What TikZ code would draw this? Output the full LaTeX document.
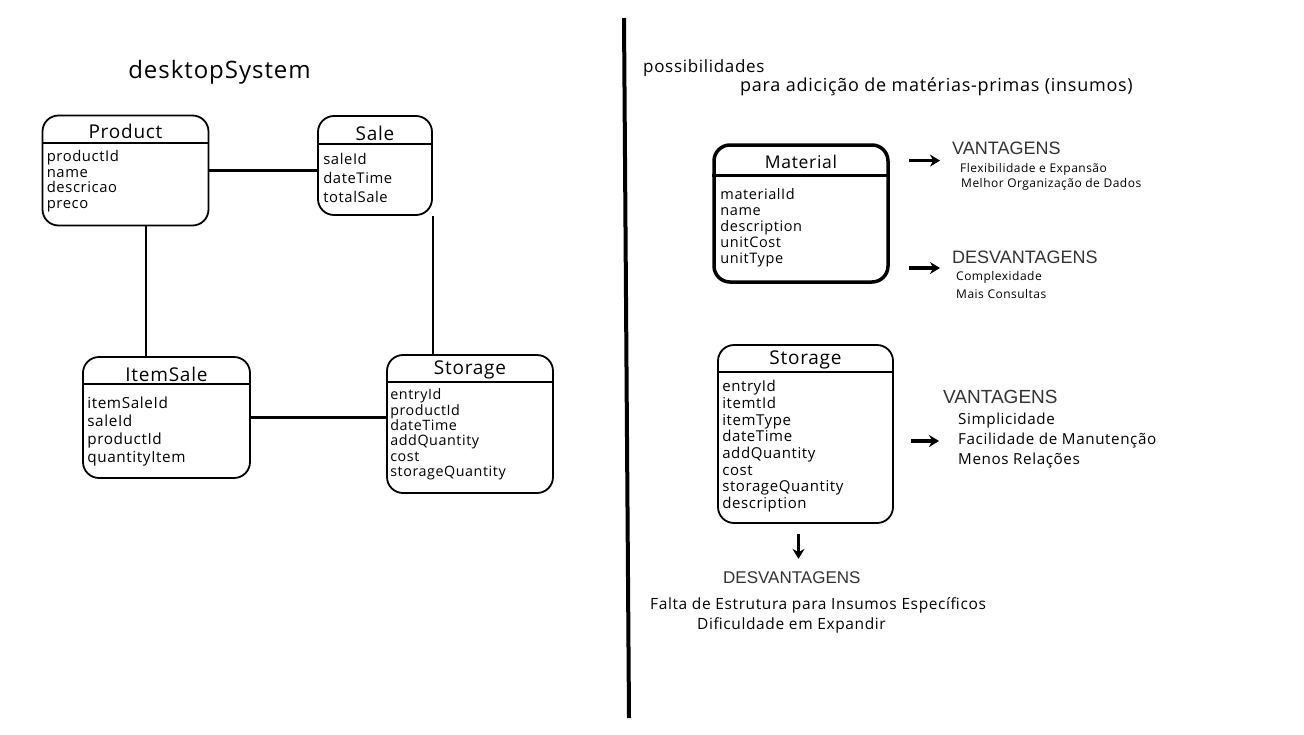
\documentclass[tikz,border=0pt]{standalone}
\usepackage{fontspec}
\setmainfont{Open Sans}[LetterSpace=4]
\newfontfamily\headfont{Liberation Sans}
\usetikzlibrary{arrows.meta, positioning, calc}

\begin{document}
\begin{tikzpicture}[x=1pt, y=-1pt, every node/.style={inner sep=0pt},
    entity/.style={draw, rectangle, rounded corners=16pt, line width=1.8pt},
    etitle/.style={font=\fontsize{19}{19}\selectfont},
    fields/.style={anchor=north west, align=left},
    head/.style={anchor=west, text=black!80},
    note/.style={anchor=west},
    link/.style={line width=2.2pt},
    bigarrow/.style={-{Stealth[length=10pt,width=12pt]}, line width=3.4pt}]
  \useasboundingbox (0,0) rectangle (1304,734);
  \fill[white] (0,0) rectangle (1304,734);

  \node[font=\fontsize{24}{24}\selectfont] (systitle) at (219.5,72) {desktopSystem};

  \node[entity, minimum width=166, minimum height=110] (product) at (125.5,170.5) {};
  \node[etitle] (producttitle) at ([yshift=-17pt]product.north) {Product};
  \draw[line width=1.8pt] ([yshift=-28pt]product.north west) -- ([yshift=-28pt]product.north east);
  \node[fields, font=\fontsize{14.8}{15.7}\selectfont] (productfields) at ([xshift=5pt,yshift=-35.5pt]product.north west) {productId\\name\\descricao\\preco};

  \node[entity, minimum width=114, minimum height=99] (sale) at (375,165.5) {};
  \node[etitle] (saletitle) at ([yshift=-18pt]sale.north) {Sale};
  \draw[line width=1.8pt] ([yshift=-29pt]sale.north west) -- ([yshift=-29pt]sale.north east);
  \node[fields, font=\fontsize{14.8}{19}\selectfont] (salefields) at ([xshift=6pt,yshift=-37.5pt]sale.north west) {saleId\\dateTime\\totalSale};

  \node[entity, minimum width=167, minimum height=121] (itemsale) at (166.5,417.5) {};
  \node[etitle] (itemsaletitle) at ([yshift=-18pt]itemsale.north) {ItemSale};
  \draw[line width=1.8pt] ([yshift=-28pt]itemsale.north west) -- ([yshift=-28pt]itemsale.north east);
  \node[fields, font=\fontsize{15.3}{17.7}\selectfont] (itemsalefields) at ([xshift=5pt,yshift=-41pt]itemsale.north west) {itemSaleId\\saleId\\productId\\quantityItem};

  \node[entity, minimum width=166, minimum height=138] (storeL) at (470,424) {};
  \node[etitle] (storeLtitle) at ([yshift=-16pt]storeL.north) {Storage};
  \draw[line width=1.8pt] ([yshift=-28pt]storeL.north west) -- ([yshift=-28pt]storeL.north east);
  \node[fields, font=\fontsize{14.3}{15.4}\selectfont] (storeLfields) at ([xshift=4pt,yshift=-34.5pt]storeL.north west) {entryId\\productId\\dateTime\\addQuantity\\cost\\storageQuantity};

  \draw[link] (product.east) -- (product.east -| sale.west);
  \coordinate (pi) at ($(product.south)!.5!(itemsale.north)$);
  \draw[link] (pi |- product.south) -- (pi |- itemsale.north);
  \draw[link] (sale.east |- sale.south) -- (sale.east |- storeL.north);
  \draw[link] (itemsale.east) -- (itemsale.east -| storeL.west);

  \draw[line width=4pt] (624,18) -- (629,718);

  \node[note, font=\fontsize{17}{17}\selectfont] (poss) at (643,68) {possibilidades};
  \node[note, font=\fontsize{18}{18}\selectfont] (adicao) at (740,87) {para adicição de matérias-primas (insumos)};

  \node[entity, line width=3.5pt, minimum width=174, minimum height=137] (material) at (801,213.5) {};
  \node[etitle, font=\fontsize{17.5}{17.5}\selectfont] (materialtitle) at ([yshift=-19pt]material.north) {Material};
  \draw[line width=3.5pt] ([yshift=-32pt]material.north west) -- ([yshift=-32pt]material.north east);
  \node[fields, font=\fontsize{14.5}{16}\selectfont] (materialfields) at ([xshift=8pt,yshift=-45pt]material.north west) {materialId\\name\\description\\unitCost\\unitType};

  \node[head, font=\headfont\fontsize{18}{18}\selectfont] (vant1) at (952,148) {VANTAGENS};
  \node[note, font=\fontsize{12}{12}\selectfont] (flex) at (960,169) {Flexibilidade e Expansão};
  \node[note, font=\fontsize{12}{12}\selectfont] (melhor) at (961,184) {Melhor Organização de Dados};
  \node[head, font=\headfont\fontsize{18}{18}\selectfont] (desv1) at (952,257) {DESVANTAGENS};
  \node[note, font=\fontsize{12}{12}\selectfont] (compl) at (956,277) {Complexidade};
  \node[note, font=\fontsize{12}{12}\selectfont] (mais) at (956,294) {Mais Consultas};

  \coordinate (m1) at ($(vant1.west)!.6!(flex.west)$);
  \coordinate (m2) at ($(desv1.west)!.55!(compl.west)$);
  \draw[bigarrow] ($(material.east |- m1)+(19,0)$) -- ($(vant1.west |- m1)+(-12,0)$);
  \draw[bigarrow] ($(material.east |- m2)+(19,0)$) -- ($(desv1.west |- m2)+(-12,0)$);

  \node[entity, minimum width=175, minimum height=178] (storeR) at (805.5,434) {};
  \node[etitle] (storeRtitle) at ([yshift=-16pt]storeR.north) {Storage};
  \draw[line width=1.8pt] ([yshift=-28pt]storeR.north west) -- ([yshift=-28pt]storeR.north east);
  \node[fields, font=\fontsize{15}{16.7}\selectfont] (storeRfields) at ([xshift=5pt,yshift=-36pt]storeR.north west) {entryId\\itemtId\\itemType\\dateTime\\addQuantity\\cost\\storageQuantity\\description};

  \node[head, font=\headfont\fontsize{19}{19}\selectfont] (vant2) at (943,397) {VANTAGENS};
  \node[note, font=\fontsize{15.2}{15.2}\selectfont] (simpl) at (958,421) {Simplicidade};
  \node[note, font=\fontsize{15.2}{15.2}\selectfont] (facil) at (958,441) {Facilidade de Manutenção};
  \node[note, font=\fontsize{15.2}{15.2}\selectfont] (menos) at (958,461) {Menos Relações};
  \draw[bigarrow] ($(storeR.east |- facil)+(17,0)$) -- ($(facil.west)+(-19,0)$);

  \node[head, font=\headfont\fontsize{17}{17}\selectfont] (desv2) at (723,578) {DESVANTAGENS};
  \node[note, font=\fontsize{15.5}{15.5}\selectfont] (falta) at (650,605) {Falta de Estrutura para Insumos Específicos};
  \node[note, font=\fontsize{15.5}{15.5}\selectfont] (dific) at (697,625) {Dificuldade em Expandir};
  \draw[bigarrow] ($(storeR.south)+(-7,10)$) -- ($(storeR.south)+(-7,35)$);
\end{tikzpicture}
\end{document}
